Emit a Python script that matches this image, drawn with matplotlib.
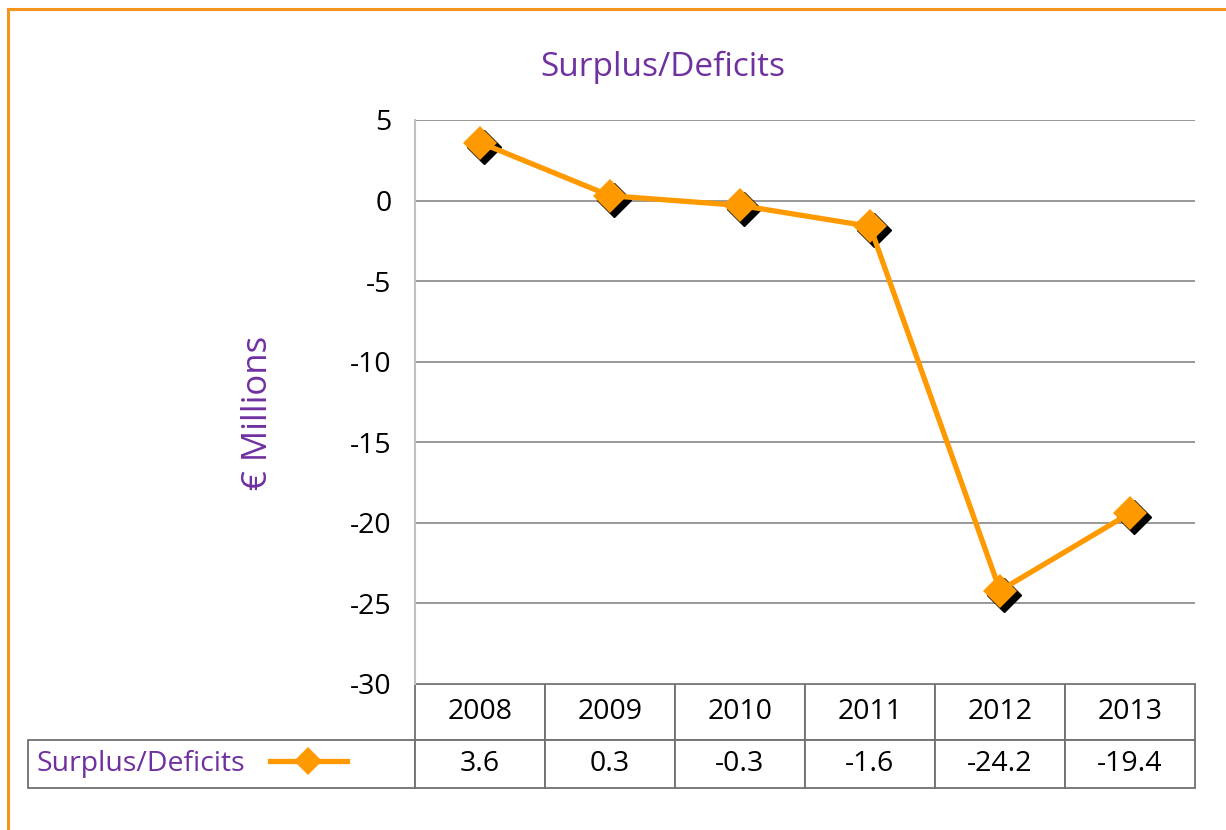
"""Surplus/Deficits line chart with data table underneath."""

import matplotlib
matplotlib.use("Agg")
import matplotlib.pyplot as plt
from matplotlib.patches import Rectangle
from matplotlib.table import Table
from matplotlib.transforms import offset_copy

plt.rcParams["font.family"] = ["Open Sans", "DejaVu Sans"]
plt.rcParams["axes.unicode_minus"] = False

years = ["2008", "2009", "2010", "2011", "2012", "2013"]
surplus = [3.6, 0.3, -0.3, -1.6, -24.2, -19.4]
series_name = "Surplus/Deficits"
y_ticks = [-30, -25, -20, -15, -10, -5, 0, 5]

ORANGE = "#FF9900"
PURPLE = "#7030A0"
GRID = "#868686"
FS = 20.5

W, H = 1226, 830
fig = plt.figure(figsize=(W / 100, H / 100), dpi=100)
ax = fig.add_axes([415 / W, 1 - 684 / H, 780 / W, 564 / H])

x = range(len(years))
shadow = offset_copy(ax.transData, fig=fig, x=4, y=-4, units="dots")
ax.plot(x, surplus, linestyle="none", marker="D", markersize=17,
        color="black", transform=shadow, zorder=3)
ax.plot(x, surplus, color=ORANGE, linewidth=3.8, marker="D", markersize=17,
        markeredgewidth=0, label=series_name, zorder=4)

ax.set_xlim(-0.5, len(years) - 0.5)
ax.set_ylim(-30, 5)
ax.set_yticks(y_ticks)
ax.set_xticks([])
ax.tick_params(axis="y", length=0, pad=17, labelsize=FS)
ax.yaxis.grid(True, color=GRID, linewidth=1.2)
ax.set_axisbelow(True)
for side in ("top", "right", "bottom"):
    ax.spines[side].set_visible(False)
ax.spines["left"].set_color("#BFBFBF")
ax.spines["left"].set_linewidth(1.5)

# data table under the plot; the row label cell is left blank for the legend key
label_w = 387 / 780
col_w = 1 / len(years)
tbl = Table(ax, bbox=[0, -104 / 564, 1, 104 / 564])
for c, yr in enumerate(years):
    tbl.add_cell(0, c, width=col_w, height=56, text=yr, loc="center")
    tbl.add_cell(1, c, width=col_w, height=48, text=f"{surplus[c]:.1f}", loc="center")
tbl.add_cell(1, -1, width=label_w, height=48, text="")
tbl.auto_set_font_size(False)
tbl.set_fontsize(FS)
for cell in tbl.get_celld().values():
    cell.set_edgecolor("#707070")
    cell.set_linewidth(1.3)
ax.add_table(tbl)

leg = ax.legend(loc="center left", bbox_to_anchor=(-label_w + 0.0115, -80 / 564),
                markerfirst=False, frameon=False, fontsize=FS, markerscale=0.85,
                handlelength=2.7, handletextpad=0.85, borderaxespad=0, borderpad=0)
for t in leg.get_texts():
    t.set_color(PURPLE)

fig.text(663 / W, 1 - 67 / H, series_name, color=PURPLE, fontsize=24,
         ha="center", va="center")
fig.text(258 / W, 1 - 413 / H, "€ Millions", color=PURPLE, fontsize=25,
         rotation=90, ha="center", va="center")

fig.add_artist(Rectangle((8 / W, -0.1), 1.2, 1.1 - 9 / H, transform=fig.transFigure,
                         fill=False, edgecolor="#F7941D", linewidth=2.2))

fig.savefig("out.png", dpi=100)
plt.close(fig)
